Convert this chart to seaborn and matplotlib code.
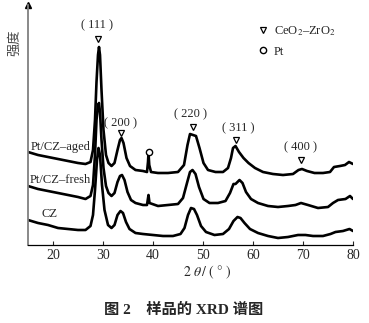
import matplotlib
matplotlib.use("Agg")
import matplotlib.pyplot as plt
from matplotlib.lines import Line2D
import seaborn as sns
import pandas as pd

# XRD patterns: 2θ (°) and intensity (a.u., stacked with offsets)
aged_x = [15, 17, 19, 21, 23, 25, 26.5, 27.5, 28.0, 28.4, 28.7, 29.0, 29.2, 29.4, 29.7, 30.1,
          30.6, 31.1, 31.7, 32.3, 32.9, 33.4, 33.7, 34.1, 34.7, 35.4, 36.5, 38.0, 38.8, 39.0,
          39.1, 39.25, 39.6, 41.0, 43.0, 45.0, 46.2, 46.9, 47.4, 48.0, 48.6, 49.3, 50.1, 51.0,
          52.5, 54.0, 55.0, 55.6, 56.0, 56.5, 57.2, 58.1, 59.1, 60.4, 62.0, 64.0, 66.0, 68.0,
          69.1, 69.8, 70.8, 72.3, 74.0, 75.4, 76.2, 77.4, 78.4, 79.2, 80.0]
aged_y = [93, 90, 88, 86, 84, 82, 81, 83, 95, 125, 163, 190, 198, 190, 155, 115,
          90, 82, 79, 82, 95, 105, 107, 102, 87, 79, 75, 74, 73, 83,
          92, 80, 73, 72, 72, 73, 80, 100, 111, 110, 109, 97, 82, 75,
          73, 73, 77, 87, 97, 99, 93, 87, 82, 77, 73, 71, 70, 71,
          75, 76, 74, 72, 72, 73, 78, 79, 80, 83, 81]

fresh_x = [15, 17, 19, 21, 23, 25, 26.5, 27.5, 28.0, 28.4, 28.7, 29.0, 29.2, 29.4, 29.7, 30.1,
           30.6, 31.1, 31.7, 32.3, 32.9, 33.4, 33.8, 34.3, 34.9, 35.6, 36.5, 38.0, 38.8, 39.1,
           39.3, 41.0, 43.0, 45.0, 46.0, 46.8, 47.4, 47.9, 48.5, 49.2, 50.1, 51.3, 53.0, 54.5,
           55.4, 56.1, 56.5, 57.3, 57.9, 58.6, 59.6, 61.0, 63.0, 65.0, 67.0, 68.5, 69.6, 71.0,
           73.0, 75.0, 76.0, 77.0, 78.5, 79.4, 80.0]
fresh_y = [59, 56, 54, 52, 50, 48, 46, 49, 60, 90, 125, 140, 142, 133, 105, 77,
           59, 52, 49, 52, 63, 69, 70, 65, 53, 45, 42, 40, 40, 50,
           42, 39, 40, 41, 47, 62, 73, 75, 71, 58, 46, 42, 42, 44,
           52, 61, 61, 65, 62, 53, 46, 42, 39, 38, 39, 40, 42, 40,
           37, 38, 42, 45, 46, 49, 46]

cz_x = [15, 17, 19, 21, 23, 25, 26.5, 27.5, 28.0, 28.4, 28.8, 29.1, 29.4, 29.8, 30.3, 31.0,
        31.7, 32.3, 32.9, 33.5, 34.0, 34.6, 35.3, 36.5, 38.0, 40.0, 42.0, 44.0, 45.5, 46.3,
        47.0, 47.6, 48.2, 48.8, 49.6, 50.6, 52.3, 54.0, 55.2, 56.1, 56.9, 57.5, 58.3, 59.4,
        61.0, 63.0, 65.0, 67.0, 69.0, 70.5, 72.0, 74.0, 75.5, 76.5, 78.0, 79.3, 80.0]
cz_y = [25, 22, 20, 17, 16, 15, 15, 19, 30, 55, 85, 97, 90, 60, 35, 20,
        17, 20, 30, 34, 32, 23, 16, 12, 11, 10, 9, 9, 11, 17,
        30, 37, 36, 30, 19, 13, 10, 11, 16, 24, 28, 27, 22, 16,
        12, 9, 7, 8, 10, 10, 9, 9, 11, 13, 14, 16, 14]

samples = ["Pt/CZ–aged", "Pt/CZ–fresh", "CZ"]
label_pos = [(15.6, 98), (15.4, 65), (17.8, 31)]

# CeO2–ZrO2 reflections: (label, marker position, label position)
hkl_labels = ["( 111 )", "( 200 )", "( 220 )", "( 311 )", "( 400 )"]
hkl_marker = [(29.0, 206), (33.6, 112), (48.0, 118), (56.6, 105), (69.6, 85)]
hkl_text = [(28.8, 220), (33.4, 122), (47.4, 131), (57.0, 117), (69.4, 98)]
pt_marker = (39.2, 93)

x_ticks = [20, 30, 40, 50, 60, 70, 80]

df = pd.concat([
    pd.DataFrame({"two_theta": aged_x, "intensity": aged_y, "sample": samples[0]}),
    pd.DataFrame({"two_theta": fresh_x, "intensity": fresh_y, "sample": samples[1]}),
    pd.DataFrame({"two_theta": cz_x, "intensity": cz_y, "sample": samples[2]}),
])

sns.set_style("ticks")
plt.rcParams["font.family"] = ["Liberation Serif", "Noto Sans CJK SC"]
plt.rcParams["mathtext.fontset"] = "stix"

fig = plt.figure(figsize=(3.69, 3.23), dpi=100)
ax = fig.add_axes([28 / 369, 78 / 323, 325 / 369, 240 / 323])

sns.lineplot(data=df, x="two_theta", y="intensity", hue="sample", units="sample",
             estimator=None, sort=False, palette=["black"] * 3, linewidth=1.9,
             legend=False, ax=ax)

ax.set_xlim(15, 80)
ax.set_ylim(0, 240)
ax.set_xticks(x_ticks)
ax.set_yticks([])
ax.tick_params(axis="x", direction="in", length=3, width=0.8, labelsize=10, pad=3)
ax.set_xlabel("")
ax.set_ylabel("")

for side in ["top", "right"]:
    ax.spines[side].set_visible(False)
ax.spines["bottom"].set_color("black")
ax.spines["bottom"].set_linewidth(0.9)
ax.spines["left"].set_color("#808080")
ax.spines["left"].set_linewidth(1.3)
ax.plot([0], [1.0], marker="^", color="black", markersize=4,
        transform=ax.transAxes, clip_on=False)

# sample names
for name, (tx, ty) in zip(samples, label_pos):
    ax.text(tx, ty, name, fontsize=9, ha="left", va="center")

# reflection markers and Miller indices
for lab, (mx, my), (tx, ty) in zip(hkl_labels, hkl_marker, hkl_text):
    ax.plot(mx, my, marker="v", mfc="white", mec="black", mew=0.9, markersize=4.5)
    ax.text(tx, ty, lab, fontsize=9, ha="center", va="center")
ax.plot(*pt_marker, marker="o", mfc="white", mec="black", mew=1.0, markersize=4.5)

handles = [
    Line2D([], [], ls="none", marker="v", mfc="white", mec="black", mew=0.9, markersize=4.5),
    Line2D([], [], ls="none", marker="o", mfc="white", mec="black", mew=1.0, markersize=4.5),
]
ax.legend(handles, ["CeO$_2$–ZrO$_2$", "Pt"], loc="upper left",
          bbox_to_anchor=(0.68, 0.955), frameon=False, fontsize=9,
          handlelength=0.8, handletextpad=0.5, labelspacing=0.6, borderpad=0.2)

fig.text(15 / 369, 1 - 43 / 323, "强度", rotation=90, fontsize=9.5,
         ha="center", va="center", color="#444444")
fig.text(207 / 369, 1 - 272 / 323, r"$2\ \theta\,/\ (\ °\ )$", fontsize=10,
         ha="center", va="center")
fig.text(184 / 369, 1 - 310 / 323, "图 2    样品的 XRD 谱图", fontsize=11,
         fontweight="bold", ha="center", va="center")

fig.savefig("out.png", dpi=100)
